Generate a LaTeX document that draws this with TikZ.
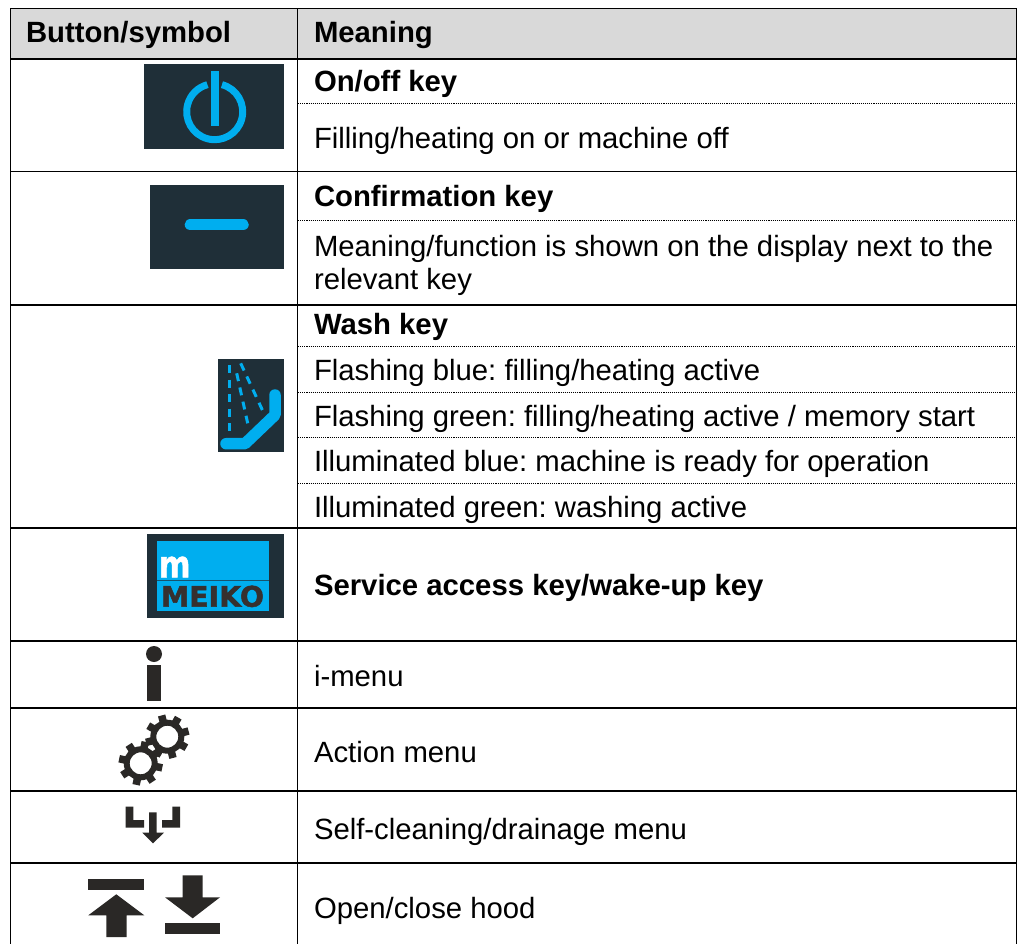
\documentclass[tikz,border=0pt]{standalone}
\usepackage{fontspec}
\setmainfont{Liberation Sans}
\newfontfamily\logofont{DejaVu Sans Bold}[FakeBold=1.6]
\definecolor{iconbg}{HTML}{1F2F38}
\definecolor{keyblue}{HTML}{00AEEF}
\definecolor{headgrey}{HTML}{D9D9D9}
\definecolor{symblack}{HTML}{2A2826}
\definecolor{logodark}{HTML}{36302F}
\tikzset{
  x=1pt,y=-1pt,
  rule/.style={draw=black,line width=1.1pt},
  dotrule/.style={draw=black,line width=1pt,dash pattern=on 1.1pt off 1pt},
  txt/.style={anchor=base west,inner sep=0pt,outer sep=0pt,font=\fontsize{29.3}{33}\selectfont\frenchspacing},
  btxt/.style={txt,font=\fontsize{29.3}{33}\selectfont\frenchspacing\bfseries},
  icon/.style={fill=iconbg,draw=none},
  blueline/.style={draw=keyblue,line cap=round},
  sym/.style={fill=symblack,draw=none},
}
\begin{document}
\begin{tikzpicture}
\useasboundingbox (0,0) rectangle (1017,944);
\fill[white] (0,0) rectangle (1017,944);
% header
\fill[headgrey] (10.5,8.5) rectangle (1016.5,59);
% rules
\draw[rule] (10.5,944) -- (10.5,8.5) -- (1016.5,8.5) -- (1016.5,944);
\draw[rule] (297.5,8.5) -- (297.5,944);
\foreach \yy in {59,171.5,305,528,641,708,791,863}
  \draw[rule] (10.5,\yy) -- (1016.5,\yy);
\foreach \yy in {104,221,346,392,437,483}
  \draw[dotrule] (298,\yy) -- (1016,\yy);
% texts
\node[btxt] (h1) at (26,43) {Button/symbol};
\node[btxt] (h2) at (314,43) {Meaning};
\node[btxt] (t1) at (314,92) {On/off key};
\node[txt] (t2) at (314,149) {Filling/heating on or machine off};
\node[btxt] (t3) at (314,207) {Confirmation key};
\node[txt] (t4) at (314,256) {Meaning/function is shown on the display next to the};
\node[txt] (t5) at (314,289) {relevant key};
\node[btxt] (t6) at (314,334) {Wash key};
\node[txt] (t7) at (314,380) {Flashing blue: filling/heating active};
\node[txt] (t8) at (314,426) {Flashing green: filling/heating active / memory start};
\node[txt] (t9) at (314,471) {Illuminated blue: machine is ready for operation};
\node[txt] (t10) at (314,517) {Illuminated green: washing active};
\node[btxt] (t11) at (314,595) {Service access key/wake-up key};
\node[txt] (t12) at (314,686) {i-menu};
\node[txt] (t13) at (314,762) {Action menu};
\node[txt] (t14) at (314,839) {Self-cleaning/drainage menu};
\node[txt] (t15) at (314,918) {Open/close hood};
% on/off icon
\fill[icon] (144,64) rectangle (284,149);
\draw[blueline,line cap=butt,line width=7pt] (221.95,84.65) arc[start angle=75,end angle=-255,radius=28pt];
\fill[keyblue] (211,71) rectangle (219,126);
% confirmation icon
\fill[icon] (150.3,185) rectangle (284,269);
\draw[blueline,line width=11.5pt] (190.4,224.7) -- (243,224.7);
% wash icon
\fill[icon] (218.3,359) rectangle (283.7,452);
\draw[blueline,line width=11.5pt,line join=round] (226,443.7) -- (245,443.7) -- (275,415) -- (275,395);
\foreach \a/\b in {{229.3,365}/{229.3,431.7},{236.7,373.3}/{247.7,423.3},{240.7,363.3}/{262.7,410.7}}
  \draw[draw=keyblue,line width=3pt,dash pattern=on 8pt off 6.5pt] (\a) -- (\b);
% meiko icon
\fill[icon] (146.7,534) rectangle (283.7,618);
\fill[keyblue] (157,541) rectangle (269,610.7);
\draw[draw=iconbg!70!keyblue,line width=1.5pt] (157,580.7) -- (269,580.7);
\node[inner sep=0pt,anchor=base,text=white,xscale=.82,font=\fontsize{37}{37}\logofont] (lm) at (174.7,577.3) {m};
\node[inner sep=0pt,anchor=base,text=logodark,font=\fontsize{28.4}{28.4}\logofont] (lw) at (212.5,606.7) {MEIKO};
% i icon
\fill[sym] (154,654) circle[radius=8pt];
\fill[sym] (147.3,665) rectangle (161.3,700.7);
% gears
\foreach \cx/\cy/\off in {140.7/763.3/12,167.3/736.7/30}{
  \begin{scope}[shift={(\cx,\cy)}]
    \draw[draw=symblack,line width=6pt] (0,0) circle[radius=14pt];
    \foreach \k in {0,45,...,315}
      \draw[draw=symblack,line width=7.5pt] ({cos(\k+\off)*15},{sin(\k+\off)*15}) -- ({cos(\k+\off)*22},{sin(\k+\off)*22});
  \end{scope}
}
% drain icon
\fill[sym] (125.7,806.7) -- (133.3,806.7) -- (133.3,820) -- (144,820) -- (144,827.7) -- (125.7,827.7) -- cycle;
\fill[sym] (180,806.7) -- (172.3,806.7) -- (172.3,820) -- (162,820) -- (162,827.7) -- (180,827.7) -- cycle;
\fill[sym] (149,812.3) -- (156.7,812.3) -- (156.7,832.7) -- (164,832.7) -- (153,843.3) -- (142.3,832.7) -- (149,832.7) -- cycle;
% hood icons
\fill[sym] (88.3,878.7) rectangle (144.3,890);
\fill[sym] (116.3,894.3) -- (144.3,915.3) -- (126.7,915.3) -- (126.7,937) -- (106.3,937) -- (106.3,915.3) -- (88.3,915.3) -- cycle;
\fill[sym] (182.7,875.3) -- (202.7,875.3) -- (202.7,897.3) -- (220,897.3) -- (192.7,918.3) -- (165,897.3) -- (182.7,897.3) -- cycle;
\fill[sym] (165,923) rectangle (220,934);
\end{tikzpicture}
\end{document}
